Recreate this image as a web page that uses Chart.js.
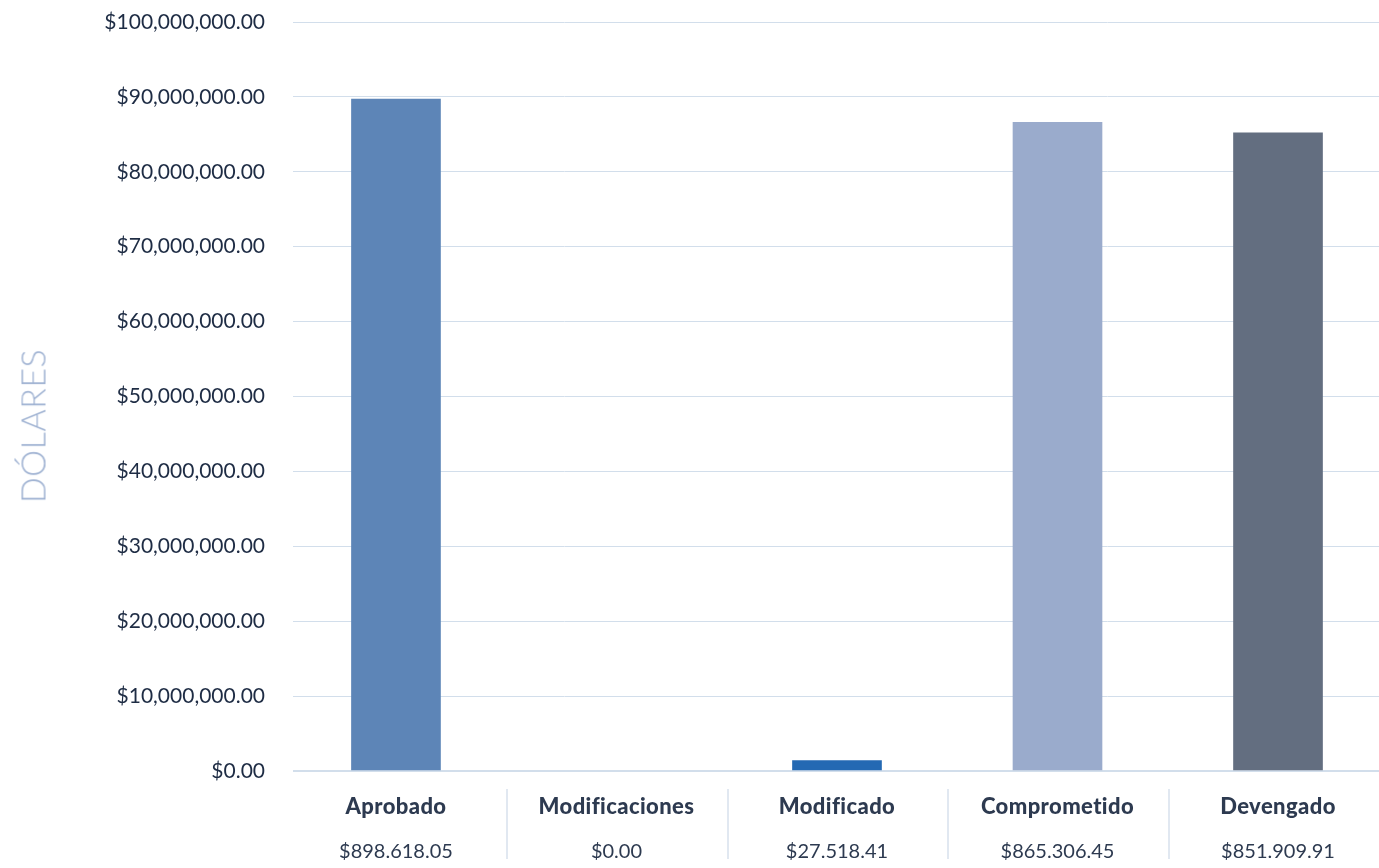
<!DOCTYPE html>
<html>
<head>
<meta charset="utf-8">
<script src="https://cdn.jsdelivr.net/npm/chart.js@4/dist/chart.umd.min.js"></script>
<style>
  html, body { margin: 0; padding: 0; background: #fff; }
  body { width: 1379px; height: 868px; overflow: hidden; position: relative; font-family: Lato, "Open Sans", sans-serif; }
  #chart { position: absolute; left: 0; top: 0; }
  #yTitle {
    position: absolute; left: 32px; top: 426px;
    transform: translate(-50%, -50%) rotate(-90deg);
    font-size: 34px; font-weight: 300; color: #9fb2d2; white-space: nowrap; letter-spacing: 0.5px;
  }
  #labels { position: absolute; left: 0; top: 772px; width: 1379px; height: 88px; overflow: hidden; }
  .cat { position: absolute; top: 0; transform: translateX(-50%); text-align: center; white-space: nowrap; color: #2d3a50; }
  .cat .name { position: absolute; left: 50%; top: 20px; transform: translateX(-50%); font-size: 22px; font-weight: 900; letter-spacing: 0.4px; }
  .cat .val { position: absolute; left: 50%; top: 66px; transform: translateX(-50%); font-size: 20px; font-weight: 400; }
  .sep { position: absolute; top: 17px; width: 2px; height: 70px; background: #e1e8f1; }
</style>
</head>
<body>
<canvas id="chart" width="1379" height="868"></canvas>
<div id="yTitle">DÓLARES</div>
<div id="labels"></div>
<script>
const CATEGORIES = ["Aprobado", "Modificaciones", "Modificado", "Comprometido", "Devengado"];
const BAR_VALUES = [89700000, 0, 1400000, 86600000, 85200000];
const VALUE_LABELS = ["$898.618.05", "$0.00", "$27.518.41", "$865.306.45", "$851.909.91"];
const BAR_COLORS = ["#5d85b7", "#5d85b7", "#2469b3", "#9aabcc", "#636e80"];
const Y_MAX = 100000000;
const Y_STEP = 10000000;

const GRID = "#d2deeb";
const TICK_TEXT = "#1e2c44";

const fmtMoney = (v) => "$" + Number(v).toLocaleString("en-US", { minimumFractionDigits: 2, maximumFractionDigits: 2 });

const chart = new Chart(document.getElementById("chart"), {
    type: "bar",
    data: {
        datasets: [{
            data: BAR_VALUES.map((v, i) => ({ x: i, y: v })),
            // una barra en cero no se pinta
            backgroundColor: BAR_VALUES.map((v, i) => (v === 0 ? "rgba(0,0,0,0)" : BAR_COLORS[i])),
            borderWidth: 0,
            barThickness: 89,
        }],
    },
    options: {
        responsive: false,
        animation: false,
        events: [],
        layout: { padding: { top: 22, bottom: 97, left: 0, right: 0 } },
        plugins: { legend: { display: false }, tooltip: { enabled: false } },
        scales: {
            x: {
                type: "linear",
                offset: false,
                min: -0.467,
                max: 4.458,
                display: false,
            },
            y: {
                min: 0,
                max: Y_MAX,
                border: { display: false },
                grid: {
                    color: GRID,
                    lineWidth: (ctx) => (ctx.tick && ctx.tick.value === 0 ? 2 : 1),
                    drawTicks: false,
                },
                ticks: {
                    stepSize: Y_STEP,
                    padding: 28,
                    color: TICK_TEXT,
                    font: { family: "Lato", size: 21 },
                    callback: (v) => fmtMoney(v),
                },
                afterFit: (scale) => {
                    scale.width = 293;
                    scale.paddingTop = 0;
                    scale.paddingBottom = 0;
                },
            },
        },
    },
});

// etiquetas de categorías debajo del eje, alineadas con la escala x
const box = document.getElementById("labels");
const xs = chart.scales.x;
CATEGORIES.forEach((name, i) => {
    const cx = xs.getPixelForValue(i);
    const d = document.createElement("div");
    d.className = "cat";
    d.style.left = cx + "px";
    d.innerHTML = `<div class="name">${name}</div><div class="val">${VALUE_LABELS[i]}</div>`;
    box.appendChild(d);
    if (i > 0) {
        const s = document.createElement("div");
        s.className = "sep";
        s.style.left = Math.round((xs.getPixelForValue(i - 1) + cx) / 2) + "px";
        box.appendChild(s);
    }
});
</script>
</body>
</html>
